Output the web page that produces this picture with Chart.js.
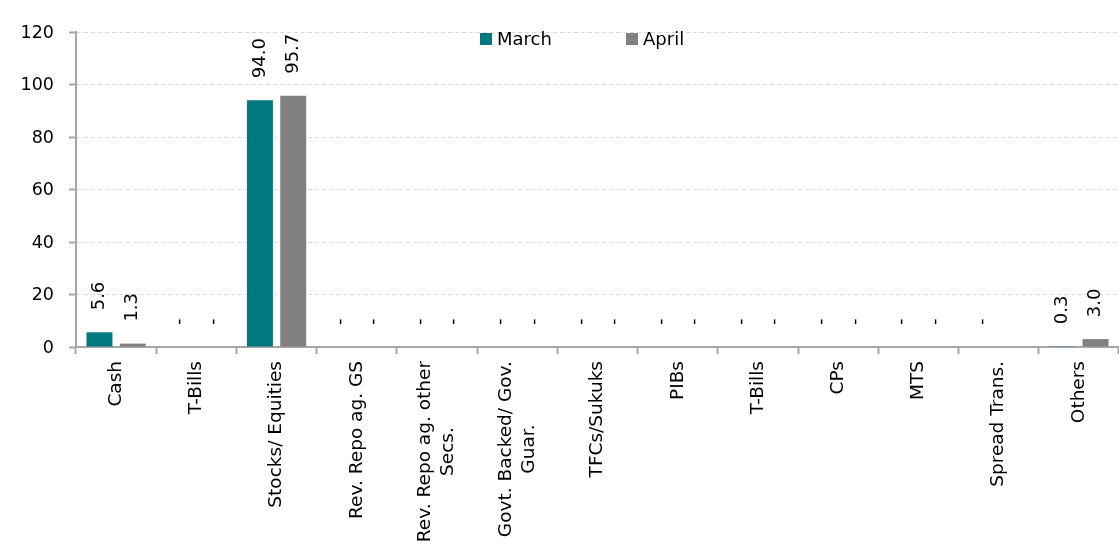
<!DOCTYPE html>
<html>
<head>
<meta charset="utf-8">
<script src="https://cdn.jsdelivr.net/npm/chart.js@4/dist/chart.umd.min.js"></script>
<style>
html,body{margin:0;padding:0;background:#fff;overflow:hidden}
#wrap{position:relative;width:1119px;height:544px}
</style>
</head>
<body>
<div id="wrap"><canvas id="c" width="1119" height="544"></canvas></div>
<script>
const categories = ['Cash', 'T-Bills', 'Stocks/ Equities', 'Rev. Repo ag. GS', ['Rev. Repo ag. other', 'Secs.'], ['Govt. Backed/ Gov.', 'Guar.'], 'TFCs/Sukuks', 'PIBs', 'T-Bills', 'CPs', 'MTS', 'Spread Trans.', 'Others'];
const seriesNames = ['March', 'April'];
const marchValues = [5.6, 0, 94.0, 0, 0, 0, 0, 0, 0, 0, 0, 0, 0.3];
const aprilValues = [1.3, 0, 95.7, 0, 0, 0, 0, 0, 0, 0, 0, null, 3.0];
const yTickValues = [0, 20, 40, 60, 80, 100, 120];
const seriesColors = ['#00787F', '#808080'];

const FONT = '"DejaVu Sans", Verdana, sans-serif';
const TEXT = '#000000';
const AXIS = '#a6a6a6';

const axisLabelsPlugin = {
  id: 'axisLabels',
  afterDraw(chart) {
    const xs = chart.scales.x;
    const ys = chart.scales.y;
    const ctx = chart.ctx;
    ctx.save();
    // category labels (rotated, multi-line centred)
    ctx.font = '18.5px ' + FONT;
    ctx.fillStyle = TEXT;
    categories.forEach((lab, i) => {
      const lines = Array.isArray(lab) ? lab : [lab];
      const x = xs.getPixelForTick(i);
      const w = Math.max(...lines.map(l => ctx.measureText(l).width));
      const yc = xs.top + 14 + w / 2;
      const lh = 23;
      lines.forEach((l, j) => {
        const lx = x + (j - (lines.length - 1) / 2) * lh;
        ctx.save();
        ctx.translate(lx, yc);
        ctx.rotate(-Math.PI / 2);
        ctx.textAlign = 'center';
        ctx.textBaseline = 'middle';
        ctx.fillText(l, 0, 0);
        ctx.restore();
      });
    });
    // value axis labels
    ctx.font = '17.5px ' + FONT;
    ctx.textAlign = 'right';
    ctx.textBaseline = 'middle';
    yTickValues.forEach(v => {
      ctx.fillText(String(v), ys.right - 22, ys.getPixelForValue(v) + 1);
    });
    ctx.restore();
  }
};

const dataLabelsPlugin = {
  id: 'dataLabels',
  afterDatasetsDraw(chart) {
    const ctx = chart.ctx;
    ctx.save();
    ctx.font = '18px ' + FONT;
    ctx.fillStyle = TEXT;
    chart.data.datasets.forEach((ds, di) => {
      const meta = chart.getDatasetMeta(di);
      meta.data.forEach((bar, i) => {
        const v = ds.data[i];
        if (v === null || v === undefined) return;
        const txt = v === 0 ? '-' : v.toFixed(1);
        ctx.save();
        ctx.translate(bar.x, bar.y - 22);
        ctx.rotate(-Math.PI / 2);
        ctx.textAlign = 'left';
        ctx.textBaseline = 'middle';
        ctx.fillText(txt, 0, 0);
        ctx.restore();
      });
    });
    ctx.restore();
  }
};

const legendPlugin = {
  id: 'customLegend',
  afterDraw(chart) {
    const ctx = chart.ctx;
    const starts = [480, 626];
    ctx.save();
    ctx.font = '18px ' + FONT;
    ctx.textBaseline = 'alphabetic';
    ctx.textAlign = 'left';
    chart.data.datasets.forEach((ds, i) => {
      const x0 = starts[i];
      ctx.fillStyle = ds.backgroundColor;
      ctx.fillRect(x0, 33, 12, 12);
      ctx.fillStyle = TEXT;
      ctx.fillText(ds.label, x0 + 17, 45);
    });
    ctx.restore();
  }
};

new Chart(document.getElementById('c'), {
  type: 'bar',
  data: {
    labels: categories,
    datasets: [
      { label: seriesNames[0], data: marchValues, backgroundColor: seriesColors[0] },
      { label: seriesNames[1], data: aprilValues, backgroundColor: seriesColors[1] }
    ]
  },
  options: {
    responsive: false,
    animation: false,
    devicePixelRatio: 1,
    layout: { padding: { top: 32, left: 0, right: 0, bottom: 0 } },
    categoryPercentage: 0.83,
    barPercentage: 0.78,
    plugins: { legend: { display: false }, tooltip: { enabled: false } },
    scales: {
      x: {
        afterFit(scale) { scale.height = 197; },
        ticks: { display: false },
        grid: { drawOnChartArea: false, drawTicks: true, tickLength: 7, tickColor: AXIS, tickWidth: 2, offset: true },
        border: { color: AXIS, width: 2 }
      },
      y: {
        min: 0,
        max: 120,
        afterFit(scale) { scale.width = 76; },
        afterBuildTicks(scale) { scale.ticks = yTickValues.map(v => ({ value: v })); },
        ticks: { display: false },
        grid: { color: '#d9d9d9', lineWidth: 1, tickColor: AXIS, tickWidth: 2, tickLength: 7 },
        border: { color: AXIS, width: 2, dash: [4, 3] }
      }
    }
  },
  plugins: [axisLabelsPlugin, dataLabelsPlugin, legendPlugin]
});
</script>
</body>
</html>
